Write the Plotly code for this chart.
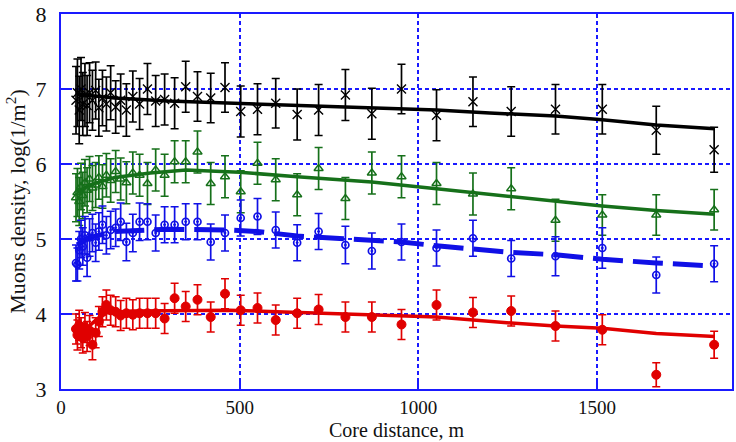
import plotly.graph_objects as go

# Core distances of the measurement bins, m
core_distance = [42, 46, 51, 56, 61, 67, 73, 80, 88, 97,
                 106, 116, 127, 139, 153, 167, 183, 201, 220, 242,
                 265, 290, 318, 349, 382, 419, 459, 503, 550, 601,
                 661, 721, 796, 870, 953, 1051, 1153, 1260, 1384, 1515,
                 1666, 1828]

# log10 muon density per series and its uncertainty
black_y = [6.85, 6.95, 6.72, 7.00, 6.80, 6.92, 6.78, 6.95, 6.85, 6.98,
           6.75, 6.88, 6.80, 6.95, 6.76, 6.85, 6.72, 6.90, 6.80, 7.00,
           6.84, 6.86, 6.81, 7.03, 6.90, 6.88, 7.02, 6.70, 6.73, 6.81,
           6.66, 6.72, 6.92, 6.67, 7.00, 6.65, 6.83, 6.70, 6.73, 6.73,
           6.45, 6.19]
black_err = [0.45, 0.45, 0.45, 0.42, 0.42, 0.42, 0.40, 0.40, 0.40, 0.38,
             0.38, 0.37, 0.36, 0.36, 0.35, 0.35, 0.35, 0.34, 0.34, 0.34,
             0.34, 0.34, 0.34, 0.34, 0.33, 0.33, 0.33, 0.34, 0.34, 0.33,
             0.34, 0.34, 0.34, 0.34, 0.33, 0.34, 0.33, 0.33, 0.33, 0.33,
             0.32, 0.30]

green_y = [5.55, 5.62, 5.50, 5.70, 5.58, 5.75, 5.65, 5.80, 5.68, 5.72,
           5.82, 5.70, 5.85, 5.78, 5.90, 5.80, 5.75, 5.88, 5.85, 5.74,
           5.92, 5.85, 6.03, 6.03, 6.16, 5.74, 5.83, 5.63, 6.01, 5.79,
           5.59, 5.94, 5.54, 5.88, 5.83, 5.74, 5.60, 5.67, 5.25, 5.32,
           5.32, 5.39]
green_err = [0.32, 0.32, 0.32, 0.31, 0.31, 0.31, 0.30, 0.30, 0.30, 0.30,
             0.29, 0.29, 0.29, 0.29, 0.28, 0.28, 0.28, 0.28, 0.28, 0.28,
             0.28, 0.28, 0.28, 0.28, 0.28, 0.28, 0.28, 0.28, 0.28, 0.28,
             0.28, 0.28, 0.28, 0.28, 0.28, 0.28, 0.28, 0.28, 0.28, 0.27,
             0.27, 0.27]

blue_y = [4.68, 4.66, 4.85, 5.00, 4.90, 5.05, 4.75, 5.02, 5.08, 4.95,
          5.10, 5.19, 5.05, 5.12, 5.15, 5.23, 4.96, 5.08, 5.23, 5.23,
          5.08, 5.19, 5.19, 5.23, 5.23, 4.96, 5.08, 5.28, 5.30, 5.12,
          4.95, 5.10, 4.92, 4.84, 4.96, 4.88, 5.01, 4.74, 4.77, 4.88,
          4.52, 4.67]
blue_err = [0.24, 0.22, 0.25, 0.25, 0.25, 0.25, 0.25, 0.25, 0.25, 0.25,
            0.25, 0.25, 0.25, 0.25, 0.25, 0.25, 0.25, 0.25, 0.25, 0.24,
            0.24, 0.24, 0.24, 0.24, 0.24, 0.24, 0.24, 0.24, 0.24, 0.24,
            0.24, 0.24, 0.25, 0.24, 0.24, 0.24, 0.24, 0.24, 0.26, 0.27,
            0.24, 0.24]

red_y = [3.80, 3.72, 3.85, 3.75, 3.68, 3.82, 3.70, 3.78, 3.59, 3.75,
         3.90, 4.03, 4.12, 4.05, 4.03, 3.98, 4.01, 3.99, 4.01, 4.01,
         4.01, 3.94, 4.21, 4.10, 4.19, 3.96, 4.27, 4.05, 4.08, 3.92,
         4.01, 4.06, 3.96, 3.96, 3.86, 4.12, 4.02, 4.04, 3.84, 3.79,
         3.19, 3.59]
red_err = [0.20, 0.20, 0.20, 0.20, 0.20, 0.20, 0.20, 0.20, 0.20, 0.20,
           0.20, 0.20, 0.20, 0.20, 0.20, 0.20, 0.20, 0.20, 0.20, 0.20,
           0.20, 0.20, 0.20, 0.20, 0.20, 0.20, 0.20, 0.20, 0.20, 0.20,
           0.20, 0.20, 0.20, 0.20, 0.20, 0.20, 0.20, 0.20, 0.20, 0.20,
           0.16, 0.18]

# Fitted curves (distance, log density)
black_fit_x = [45, 150, 300, 500, 661, 870, 1051, 1200, 1384, 1515, 1666, 1830]
black_fit_y = [6.93, 6.88, 6.84, 6.81, 6.79, 6.75, 6.72, 6.68, 6.64, 6.59, 6.52, 6.47]

green_fit_x = [45, 80, 150, 250, 350, 500, 661, 870, 1051, 1153, 1260, 1384, 1515, 1666, 1830]
green_fit_y = [5.62, 5.72, 5.82, 5.88, 5.92, 5.89, 5.83, 5.76, 5.67, 5.62, 5.56, 5.50, 5.44, 5.38, 5.33]

blue_fit_x = [45, 80, 150, 300, 470, 550, 661, 796, 953, 1051, 1153, 1260, 1384, 1515, 1666, 1830]
blue_fit_y = [4.92, 5.02, 5.10, 5.13, 5.12, 5.10, 5.04, 5.00, 4.96, 4.91, 4.86, 4.82, 4.79, 4.73, 4.68, 4.64]

red_fit_x = [45, 70, 100, 130, 200, 470, 796, 1051, 1260, 1384, 1515, 1666, 1830]
red_fit_y = [3.72, 3.80, 3.93, 4.02, 4.04, 4.05, 4.00, 3.96, 3.88, 3.84, 3.81, 3.74, 3.70]

x_ticks = [0, 500, 1000, 1500]
y_ticks = [3, 4, 5, 6, 7, 8]

BLACK = "#000000"
GREEN = "#16701a"
BLUE = "#1010e6"
RED = "#e00000"
FRAME = "#1a1aff"

fig = go.Figure()

fits = [
    (black_fit_x, black_fit_y, BLACK, 3.5, "solid"),
    (green_fit_x, green_fit_y, GREEN, 3.5, "solid"),
    (blue_fit_x, blue_fit_y, BLUE, 5, "30px,10px"),
    (red_fit_x, red_fit_y, RED, 3.5, "solid"),
]
for fx, fy, col, w, dash in fits:
    fig.add_trace(go.Scatter(x=fx, y=fy, mode="lines",
                             line=dict(color=col, width=w, dash=dash),
                             showlegend=False, hoverinfo="skip"))

points = [
    (black_y, black_err, BLACK, "x-thin-open", 9, 1.4),
    (green_y, green_err, GREEN, "triangle-up-open", 8, 1.4),
    (blue_y, blue_err, BLUE, "circle-open-dot", 7, 1.7),
    (red_y, red_err, RED, "circle", 9, 1),
]
for py, pe, col, sym, size, lw in points:
    fig.add_trace(go.Scatter(
        x=core_distance, y=py, mode="markers",
        marker=dict(symbol=sym, size=size, color=col,
                    line=dict(color=col, width=lw)),
        error_y=dict(type="data", array=pe, visible=True,
                     color=col, thickness=1.7, width=4),
        showlegend=False))

SERIF = "Liberation Serif, Times New Roman, serif"
tick_font = dict(family=SERIF, size=22, color="#111111")
xtick_font = dict(family=SERIF, size=19, color="#111111")
title_font = dict(family=SERIF, size=20, color="#111111")
ytitle_font = dict(family=SERIF, size=22, color="#111111")

fig.update_layout(
    width=736, height=442,
    margin=dict(l=61, r=2, t=12, b=53),
    paper_bgcolor="white", plot_bgcolor="white",
    font=tick_font,
)
fig.update_xaxes(
    range=[0, 1878], tickvals=x_ticks, ticktext=[str(v) for v in x_ticks],
    ticks="inside", ticklen=10, tickwidth=1.5, tickcolor=FRAME,
    showline=True, linecolor=FRAME, linewidth=2, mirror=True,
    showgrid=True, gridcolor=FRAME, gridwidth=1.5, griddash="4px,3px",
    zeroline=False, tickfont=xtick_font, ticklabelstandoff=0,
    ticklabeloverflow="allow",
)
fig.update_yaxes(
    range=[3, 8], tickvals=y_ticks, ticktext=[str(v) for v in y_ticks],
    ticks="inside", ticklen=10, tickwidth=1.5, tickcolor=FRAME,
    showline=True, linecolor=FRAME, linewidth=2, mirror=True,
    showgrid=True, gridcolor=FRAME, gridwidth=1.5, griddash="4px,3px",
    zeroline=False, tickfont=tick_font, ticklabelstandoff=8,
    ticklabeloverflow="allow",
    title=dict(text="Muons density, log(1/m<sup>2</sup>)", font=ytitle_font, standoff=4),
)

# x-axis title placed at the bottom edge of the figure
fig.add_annotation(
    text="Core distance, m", xref="paper", yref="paper",
    x=0.5, y=0, xanchor="center", yanchor="bottom", yshift=-54,
    showarrow=False, font=title_font,
)

fig.write_html("out.html")
